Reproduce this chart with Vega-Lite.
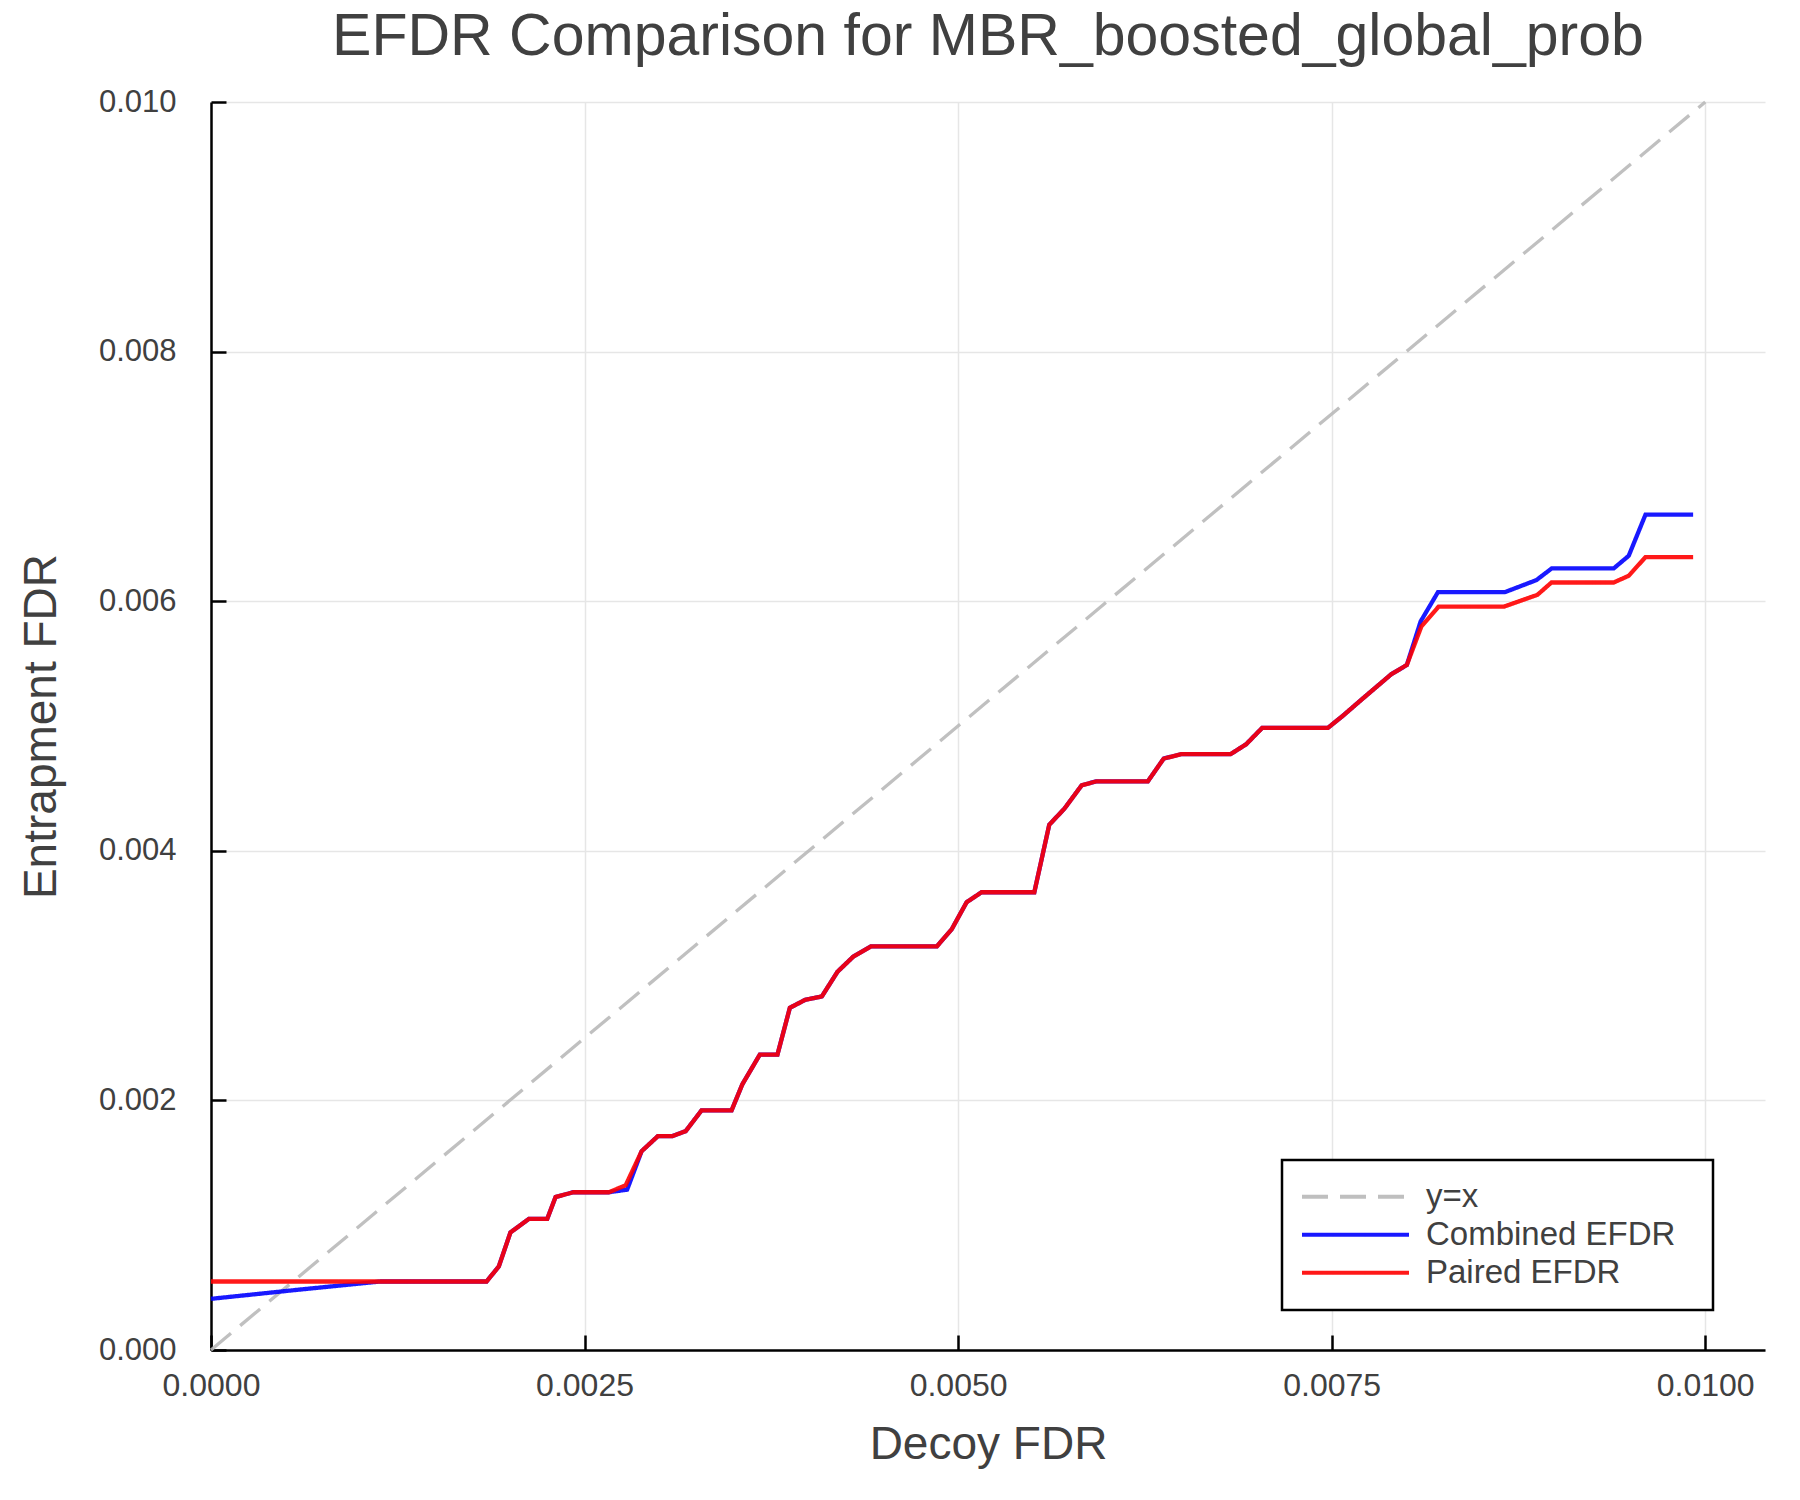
{
  "$schema": "https://vega.github.io/schema/vega-lite/v6.json",
  "autosize": {"type": "none"},
  "padding": {"left": 211, "top": 102, "right": 35, "bottom": 150},
  "width": 1554,
  "height": 1248,
  "background": "white",
  "title": {
    "text": "EFDR Comparison for MBR_boosted_global_prob",
    "fontSize": 59,
    "fontWeight": "normal",
    "color": "#404040",
    "anchor": "middle",
    "baseline": "alphabetic",
    "offset": -28
  },
  "data": {"values": [
    {"series": "y=x", "decoy": 0, "entrap": 0},
    {"series": "y=x", "decoy": 0.01, "entrap": 0.01},

    {"series": "Combined EFDR", "decoy": 0, "entrap": 0.000410},
    {"series": "Combined EFDR", "decoy": 0.000560, "entrap": 0.000480},
    {"series": "Combined EFDR", "decoy": 0.001134, "entrap": 0.000549},
    {"series": "Combined EFDR", "decoy": 0.001844, "entrap": 0.000549},
    {"series": "Combined EFDR", "decoy": 0.001926, "entrap": 0.000669},
    {"series": "Combined EFDR", "decoy": 0.002004, "entrap": 0.000942},
    {"series": "Combined EFDR", "decoy": 0.002127, "entrap": 0.001050},
    {"series": "Combined EFDR", "decoy": 0.002250, "entrap": 0.001050},
    {"series": "Combined EFDR", "decoy": 0.002306, "entrap": 0.001226},
    {"series": "Combined EFDR", "decoy": 0.002424, "entrap": 0.001264},
    {"series": "Combined EFDR", "decoy": 0.002663, "entrap": 0.001264},
    {"series": "Combined EFDR", "decoy": 0.002785, "entrap": 0.001285},
    {"series": "Combined EFDR", "decoy": 0.002882, "entrap": 0.001593},
    {"series": "Combined EFDR", "decoy": 0.002991, "entrap": 0.001714},
    {"series": "Combined EFDR", "decoy": 0.003088, "entrap": 0.001714},
    {"series": "Combined EFDR", "decoy": 0.003177, "entrap": 0.001754},
    {"series": "Combined EFDR", "decoy": 0.003283, "entrap": 0.001920},
    {"series": "Combined EFDR", "decoy": 0.003484, "entrap": 0.001920},
    {"series": "Combined EFDR", "decoy": 0.003556, "entrap": 0.002129},
    {"series": "Combined EFDR", "decoy": 0.003673, "entrap": 0.002367},
    {"series": "Combined EFDR", "decoy": 0.003791, "entrap": 0.002367},
    {"series": "Combined EFDR", "decoy": 0.003874, "entrap": 0.002742},
    {"series": "Combined EFDR", "decoy": 0.003977, "entrap": 0.002806},
    {"series": "Combined EFDR", "decoy": 0.004088, "entrap": 0.002833},
    {"series": "Combined EFDR", "decoy": 0.004193, "entrap": 0.003031},
    {"series": "Combined EFDR", "decoy": 0.004300, "entrap": 0.003154},
    {"series": "Combined EFDR", "decoy": 0.004416, "entrap": 0.003234},
    {"series": "Combined EFDR", "decoy": 0.004858, "entrap": 0.003234},
    {"series": "Combined EFDR", "decoy": 0.004958, "entrap": 0.003373},
    {"series": "Combined EFDR", "decoy": 0.005057, "entrap": 0.003588},
    {"series": "Combined EFDR", "decoy": 0.005157, "entrap": 0.003668},
    {"series": "Combined EFDR", "decoy": 0.005510, "entrap": 0.003668},
    {"series": "Combined EFDR", "decoy": 0.005610, "entrap": 0.004209},
    {"series": "Combined EFDR", "decoy": 0.005711, "entrap": 0.004337},
    {"series": "Combined EFDR", "decoy": 0.005827, "entrap": 0.004525},
    {"series": "Combined EFDR", "decoy": 0.005927, "entrap": 0.004557},
    {"series": "Combined EFDR", "decoy": 0.006270, "entrap": 0.004557},
    {"series": "Combined EFDR", "decoy": 0.006376, "entrap": 0.004739},
    {"series": "Combined EFDR", "decoy": 0.006492, "entrap": 0.004774},
    {"series": "Combined EFDR", "decoy": 0.006823, "entrap": 0.004774},
    {"series": "Combined EFDR", "decoy": 0.006928, "entrap": 0.004854},
    {"series": "Combined EFDR", "decoy": 0.007035, "entrap": 0.004985},
    {"series": "Combined EFDR", "decoy": 0.007475, "entrap": 0.004985},
    {"series": "Combined EFDR", "decoy": 0.007575, "entrap": 0.005082},
    {"series": "Combined EFDR", "decoy": 0.007709, "entrap": 0.005221},
    {"series": "Combined EFDR", "decoy": 0.007898, "entrap": 0.005414},
    {"series": "Combined EFDR", "decoy": 0.008003, "entrap": 0.005489},
    {"series": "Combined EFDR", "decoy": 0.008095, "entrap": 0.005837},
    {"series": "Combined EFDR", "decoy": 0.008211, "entrap": 0.006072},
    {"series": "Combined EFDR", "decoy": 0.008658, "entrap": 0.006072},
    {"series": "Combined EFDR", "decoy": 0.008870, "entrap": 0.006169},
    {"series": "Combined EFDR", "decoy": 0.008973, "entrap": 0.006263},
    {"series": "Combined EFDR", "decoy": 0.009388, "entrap": 0.006263},
    {"series": "Combined EFDR", "decoy": 0.009488, "entrap": 0.006364},
    {"series": "Combined EFDR", "decoy": 0.009600, "entrap": 0.006693},
    {"series": "Combined EFDR", "decoy": 0.009919, "entrap": 0.006693},

    {"series": "Paired EFDR", "decoy": 0, "entrap": 0.000549},
    {"series": "Paired EFDR", "decoy": 0.001844, "entrap": 0.000549},
    {"series": "Paired EFDR", "decoy": 0.001926, "entrap": 0.000669},
    {"series": "Paired EFDR", "decoy": 0.002004, "entrap": 0.000942},
    {"series": "Paired EFDR", "decoy": 0.002127, "entrap": 0.001050},
    {"series": "Paired EFDR", "decoy": 0.002250, "entrap": 0.001050},
    {"series": "Paired EFDR", "decoy": 0.002306, "entrap": 0.001226},
    {"series": "Paired EFDR", "decoy": 0.002424, "entrap": 0.001264},
    {"series": "Paired EFDR", "decoy": 0.002663, "entrap": 0.001264},
    {"series": "Paired EFDR", "decoy": 0.002775, "entrap": 0.001320},
    {"series": "Paired EFDR", "decoy": 0.002882, "entrap": 0.001593},
    {"series": "Paired EFDR", "decoy": 0.002991, "entrap": 0.001714},
    {"series": "Paired EFDR", "decoy": 0.003088, "entrap": 0.001714},
    {"series": "Paired EFDR", "decoy": 0.003177, "entrap": 0.001754},
    {"series": "Paired EFDR", "decoy": 0.003283, "entrap": 0.001920},
    {"series": "Paired EFDR", "decoy": 0.003484, "entrap": 0.001920},
    {"series": "Paired EFDR", "decoy": 0.003556, "entrap": 0.002129},
    {"series": "Paired EFDR", "decoy": 0.003673, "entrap": 0.002367},
    {"series": "Paired EFDR", "decoy": 0.003791, "entrap": 0.002367},
    {"series": "Paired EFDR", "decoy": 0.003874, "entrap": 0.002742},
    {"series": "Paired EFDR", "decoy": 0.003977, "entrap": 0.002806},
    {"series": "Paired EFDR", "decoy": 0.004088, "entrap": 0.002833},
    {"series": "Paired EFDR", "decoy": 0.004193, "entrap": 0.003031},
    {"series": "Paired EFDR", "decoy": 0.004300, "entrap": 0.003154},
    {"series": "Paired EFDR", "decoy": 0.004416, "entrap": 0.003234},
    {"series": "Paired EFDR", "decoy": 0.004858, "entrap": 0.003234},
    {"series": "Paired EFDR", "decoy": 0.004958, "entrap": 0.003373},
    {"series": "Paired EFDR", "decoy": 0.005057, "entrap": 0.003588},
    {"series": "Paired EFDR", "decoy": 0.005157, "entrap": 0.003668},
    {"series": "Paired EFDR", "decoy": 0.005510, "entrap": 0.003668},
    {"series": "Paired EFDR", "decoy": 0.005610, "entrap": 0.004209},
    {"series": "Paired EFDR", "decoy": 0.005711, "entrap": 0.004337},
    {"series": "Paired EFDR", "decoy": 0.005827, "entrap": 0.004525},
    {"series": "Paired EFDR", "decoy": 0.005927, "entrap": 0.004557},
    {"series": "Paired EFDR", "decoy": 0.006270, "entrap": 0.004557},
    {"series": "Paired EFDR", "decoy": 0.006376, "entrap": 0.004739},
    {"series": "Paired EFDR", "decoy": 0.006492, "entrap": 0.004774},
    {"series": "Paired EFDR", "decoy": 0.006823, "entrap": 0.004774},
    {"series": "Paired EFDR", "decoy": 0.006928, "entrap": 0.004854},
    {"series": "Paired EFDR", "decoy": 0.007035, "entrap": 0.004985},
    {"series": "Paired EFDR", "decoy": 0.007475, "entrap": 0.004985},
    {"series": "Paired EFDR", "decoy": 0.007575, "entrap": 0.005082},
    {"series": "Paired EFDR", "decoy": 0.007709, "entrap": 0.005221},
    {"series": "Paired EFDR", "decoy": 0.007898, "entrap": 0.005414},
    {"series": "Paired EFDR", "decoy": 0.008003, "entrap": 0.005489},
    {"series": "Paired EFDR", "decoy": 0.008100, "entrap": 0.005797},
    {"series": "Paired EFDR", "decoy": 0.008216, "entrap": 0.005957},
    {"series": "Paired EFDR", "decoy": 0.008654, "entrap": 0.005957},
    {"series": "Paired EFDR", "decoy": 0.008877, "entrap": 0.006051},
    {"series": "Paired EFDR", "decoy": 0.008971, "entrap": 0.006150},
    {"series": "Paired EFDR", "decoy": 0.009388, "entrap": 0.006150},
    {"series": "Paired EFDR", "decoy": 0.009488, "entrap": 0.006204},
    {"series": "Paired EFDR", "decoy": 0.009600, "entrap": 0.006353},
    {"series": "Paired EFDR", "decoy": 0.009919, "entrap": 0.006353}
  ]},
  "encoding": {
    "x": {
      "field": "decoy", "type": "quantitative",
      "scale": {"domain": [0, 0.0104], "nice": false, "zero": false},
      "axis": {
        "values": [0, 0.0025, 0.005, 0.0075, 0.01],
        "format": ".4f",
        "title": "Decoy FDR",
        "titleY": 108,
        "labelPadding": 35,
        "labelFontSize": 32
      }
    },
    "y": {
      "field": "entrap", "type": "quantitative",
      "scale": {"domain": [0, 0.01], "nice": false},
      "axis": {
        "values": [0, 0.002, 0.004, 0.006, 0.008, 0.01],
        "format": ".3f",
        "title": "Entrapment FDR",
        "titleX": -156,
        "labelPadding": 50,
        "labelFontSize": 31
      }
    },
    "color": {
      "field": "series", "type": "nominal",
      "scale": {"domain": ["y=x", "Combined EFDR", "Paired EFDR"], "range": ["#b9b9b9", "#0000ff", "#ff0000"]},
      "legend": {"title": "\u00a0", "titleOrient": "right", "titlePadding": 20, "titleFontSize": 8}
    },
    "strokeDash": {
      "field": "series", "type": "nominal",
      "scale": {"domain": ["y=x", "Combined EFDR", "Paired EFDR"], "range": [[26, 12], [1, 0], [1, 0]]},
      "legend": {"title": "\u00a0", "titleOrient": "right", "titlePadding": 20, "titleFontSize": 8}
    }
  },
  "layer": [
    {
      "transform": [{"filter": "datum.series === 'y=x'"}],
      "mark": {"type": "line", "opacity": 0.9, "strokeWidth": 3.3}
    },
    {
      "transform": [{"filter": "datum.series !== 'y=x'"}],
      "mark": {"type": "line", "opacity": 0.9, "strokeWidth": 4.3}
    }
  ],
  "config": {
    "font": "Liberation Sans",
    "view": {"stroke": null},
    "axis": {
      "labelColor": "#404040",
      "labelFont": "Liberation Sans",
      "labelFlush": false,
      "titleColor": "#404040",
      "titleFont": "Liberation Sans",
      "titleFontSize": 46,
      "titleFontWeight": "normal",
      "titleBaseline": "alphabetic",
      "tickSize": -15,
      "tickWidth": 2.5,
      "tickColor": "#000000",
      "domainColor": "#000000",
      "domainWidth": 2.5,
      "gridColor": "#e6e6e6",
      "gridWidth": 1.5
    },
    "legend": {
      "orient": "none",
      "legendX": 1071,
      "legendY": 1058,
      "strokeColor": "#000000",
      "strokeWidth": 2.5,
      "fillColor": "#ffffff",
      "padding": 18,
      "symbolType": "stroke",
      "symbolSize": 11449,
      "symbolStrokeWidth": 4,
      "clipHeight": 37.5,
      "rowPadding": 0,
      "labelOffset": 15,
      "labelFontSize": 33,
      "labelFont": "Liberation Sans",
      "labelColor": "#404040",
      "labelLimit": 400
    }
  }
}
